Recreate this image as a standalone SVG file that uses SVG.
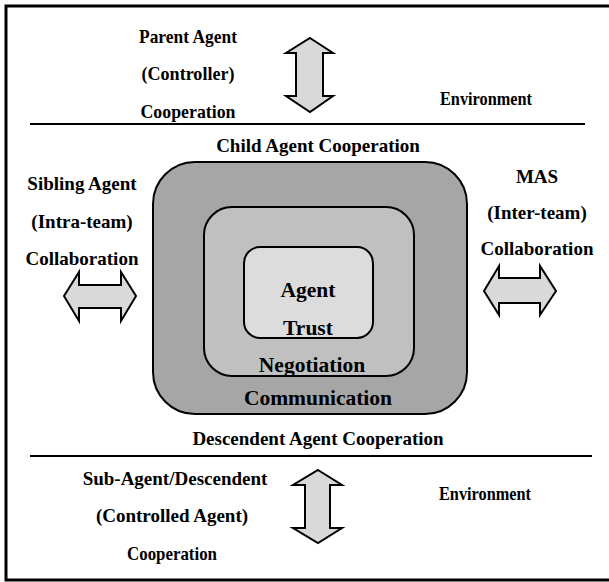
<svg xmlns="http://www.w3.org/2000/svg" width="609" height="582" viewBox="0 0 609 582">
  <style>
    text { font-family: "Liberation Serif", "Times New Roman", serif; font-weight: bold; fill: #000; text-anchor: middle; }
    .lbl { font-size: 19px; }
    .big { font-size: 21.5px; }
    .arrow { fill: #d9d9d9; stroke: #000; stroke-width: 2; stroke-linejoin: miter; }
    .ring { stroke: #000; stroke-width: 2; }
  </style>
  <rect width="609" height="582" fill="#fff"/>
  <!-- frame: right side runs off the canvas -->
  <path d="M612,6 H6 V580 H612" fill="none" stroke="#000" stroke-width="3"/>
  <!-- environment dividers -->
  <line x1="30" y1="124" x2="585" y2="124" stroke="#000" stroke-width="2"/>
  <line x1="30" y1="456" x2="592" y2="456" stroke="#000" stroke-width="2"/>

  <g id="communication">
    <rect class="ring" x="153" y="162" width="314" height="252" rx="42" fill="#a6a6a6"/>
    <text class="big" x="318" y="405">Communication</text>
  </g>
  <g id="negotiation">
    <rect class="ring" x="204" y="207" width="210" height="169" rx="28" fill="#c0c0c0"/>
    <text class="big" x="312" y="372">Negotiation</text>
  </g>
  <g id="agent-trust">
    <rect class="ring" x="244" y="247" width="129" height="91" rx="16" fill="#dcdcdc"/>
    <text class="big" x="308" y="297">Agent</text>
    <text class="big" x="308" y="335">Trust</text>
  </g>

  <g id="parent">
    <text class="lbl" x="188" y="43" textLength="98" lengthAdjust="spacingAndGlyphs">Parent Agent</text>
    <text class="lbl" x="188" y="80" textLength="93" lengthAdjust="spacingAndGlyphs">(Controller)</text>
    <text class="lbl" x="188" y="118" textLength="95" lengthAdjust="spacingAndGlyphs">Cooperation</text>
  </g>
  <g id="environment-top"><text class="lbl" x="486" y="105" textLength="92" lengthAdjust="spacingAndGlyphs">Environment</text></g>
  <g id="child"><text class="lbl" x="318" y="152">Child Agent Cooperation</text></g>
  <g id="sibling">
    <text class="lbl" x="82" y="190">Sibling Agent</text>
    <text class="lbl" x="82" y="228">(Intra-team)</text>
    <text class="lbl" x="82" y="265">Collaboration</text>
  </g>
  <g id="mas">
    <text class="lbl" x="537" y="183">MAS</text>
    <text class="lbl" x="537" y="219">(Inter-team)</text>
    <text class="lbl" x="537" y="255">Collaboration</text>
  </g>
  <g id="descendent"><text class="lbl" x="318" y="445">Descendent Agent Cooperation</text></g>
  <g id="sub-agent">
    <text class="lbl" x="175" y="485">Sub-Agent/Descendent</text>
    <text class="lbl" x="172" y="522">(Controlled Agent)</text>
    <text class="lbl" x="172" y="560" textLength="90" lengthAdjust="spacingAndGlyphs">Cooperation</text>
  </g>
  <g id="environment-bottom"><text class="lbl" x="485" y="500" textLength="92" lengthAdjust="spacingAndGlyphs">Environment</text></g>

  <g id="connectors">
    <!-- parent link -->
    <path class="arrow" d="M310,38 L333,53 L323,53 L323,96 L333,96 L310,112 L286,96 L296,96 L296,53 L286,53 Z"/>
    <!-- sub-agent link -->
    <path class="arrow" d="M318,470 L342,485 L330,485 L330,528 L342,528 L318,543 L293,528 L305,528 L305,485 L293,485 Z"/>
    <!-- sibling link -->
    <path class="arrow" d="M64,296 L79,272 L79,285 L121,285 L121,272 L136,296 L121,321 L121,308 L79,308 L79,321 Z"/>
    <!-- MAS link -->
    <path class="arrow" d="M484,291 L499,266 L499,278 L540,278 L540,266 L556,291 L540,315 L540,303 L499,303 L499,315 Z"/>
  </g>
</svg>
